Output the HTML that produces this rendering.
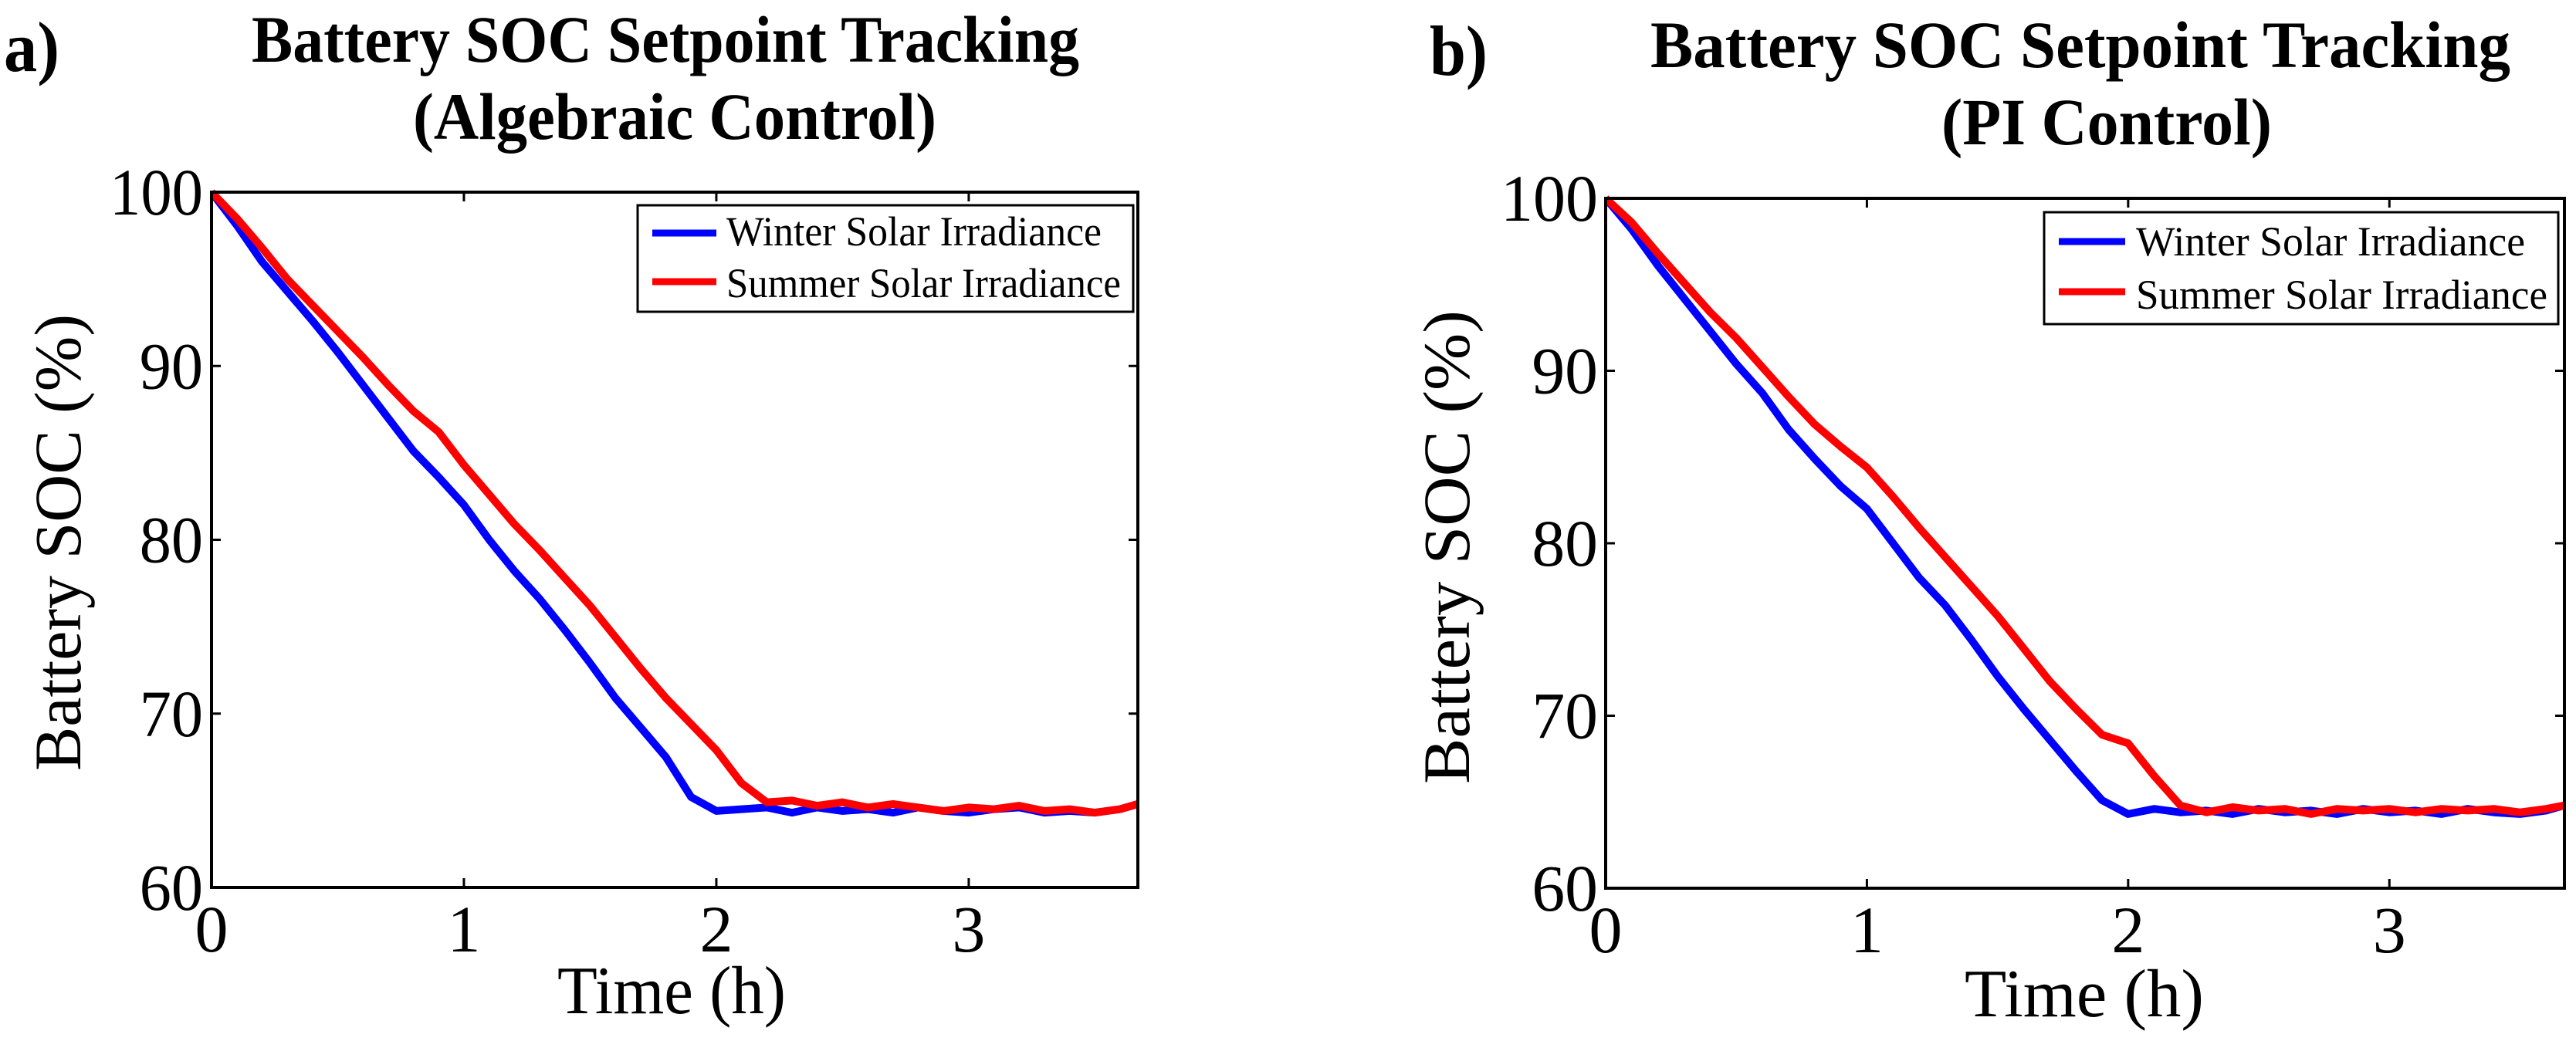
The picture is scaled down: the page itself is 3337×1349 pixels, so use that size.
<!DOCTYPE html>
<html><head><meta charset="utf-8"><style>
html,body{margin:0;padding:0;background:#fff;}
svg{display:block;}
text{font-family:"Liberation Serif",serif;fill:#000;}
</style></head><body>
<svg id="fig" width="3337" height="1349" viewBox="0 0 3337 1349" xmlns="http://www.w3.org/2000/svg"></svg>
<script>
const timeH = [0,0.1,0.2,0.3,0.4,0.5,0.6,0.7,0.8,0.9,1.0,1.1,1.2,1.3,1.4,1.5,1.6,1.7,1.8,1.9,2.0,2.1,2.2,2.3,2.4,2.5,2.6,2.7,2.8,2.9,3.0,3.1,3.2,3.3,3.4,3.5,3.6,3.67];
const algWinter = [100,98.1,96.0,94.3,92.6,90.8,88.9,87.0,85.1,83.6,82.0,80.0,78.2,76.6,74.8,72.9,70.9,69.2,67.5,65.2,64.4,64.5,64.6,64.3,64.6,64.4,64.5,64.3,64.6,64.4,64.3,64.5,64.6,64.3,64.4,64.3,64.5,64.8];
const algSummer = [100,98.5,96.8,95.0,93.5,92.0,90.5,88.9,87.4,86.2,84.3,82.6,80.9,79.4,77.8,76.2,74.4,72.6,70.9,69.4,67.9,66.0,64.9,65.0,64.7,64.9,64.6,64.8,64.6,64.4,64.6,64.5,64.7,64.4,64.5,64.3,64.5,64.8];
const piWinter = [100,98.2,96.1,94.2,92.3,90.4,88.7,86.6,84.9,83.3,82.0,80.0,78.0,76.4,74.4,72.3,70.4,68.6,66.8,65.1,64.3,64.6,64.4,64.5,64.3,64.6,64.4,64.5,64.3,64.6,64.4,64.5,64.3,64.6,64.4,64.3,64.5,64.8];
const piSummer = [100,98.6,96.8,95.1,93.4,91.9,90.2,88.5,86.9,85.6,84.4,82.7,80.9,79.2,77.5,75.8,73.9,72.0,70.4,68.9,68.4,66.5,64.8,64.4,64.7,64.5,64.6,64.3,64.6,64.5,64.6,64.4,64.6,64.5,64.6,64.4,64.6,64.8];
const xTicks = [0,1,2,3];
const yTicks = [60,70,80,90,100];
const xMax = 3.67;

const NS = "http://www.w3.org/2000/svg";
const svg = document.getElementById('fig');
function mk(tag, attrs, parent){
  const e = document.createElementNS(NS, tag);
  for (const k in attrs) e.setAttribute(k, attrs[k]);
  (parent||svg).appendChild(e);
  return e;
}
function txt(s, attrs, name, parent){
  const e = mk('text', attrs, parent);
  e.textContent = s;
  
  
  return e;
}

const panels = [
  {id:'a', L:274, T:249, R:1474, B:1150, winter:algWinter, summer:algSummer,
   t1:{x:326,w:1072,y:80}, t2s:'(Algebraic Control)', t2:{x:535,w:678,y:180}, lab:{x:5,w:72,y:92,s:'a)'},
   yl:{x:104,y1:999,y2:407}, xl:{x:722,w:296,y:1313},
   leg:{x:826,y:266,w:642,h:138,lx1:845,lx2:928,ly1:302,ly2:365,tx:941,tw1:486,tw2:511,ty1:318,ty2:385},
   ytl:{right:263, w100:121}},
  {id:'b', L:2080, T:257, R:3322, B:1151, winter:piWinter, summer:piSummer,
   t1:{x:2138,w:1114,y:87}, t2s:'(PI Control)', t2:{x:2515,w:428,y:187}, lab:{x:1852,w:75,y:97,s:'b)'},
   yl:{x:1903,y1:1016,y2:402}, xl:{x:2545,w:310,y:1317},
   leg:{x:2648,y:275,w:666,h:145,lx1:2667,lx2:2753,ly1:313,ly2:378,tx:2767,tw1:504,tw2:533,ty1:331,ty2:400},
   ytl:{right:2070, w100:126}}
];

panels.forEach(p=>{
  const g = mk('g', {});
  
  
  const xs = t => p.L + (t / xMax) * (p.R - p.L);
  const ys = v => p.B - (v - 60) / 40 * (p.B - p.T);

  txt(p.lab.s, {x:p.lab.x, y:p.lab.y, 'font-size':92, 'font-weight':'bold', textLength:p.lab.w, lengthAdjust:'spacingAndGlyphs'}, 'panel-label', g);
  txt('Battery SOC Setpoint Tracking', {x:p.t1.x, y:p.t1.y, 'font-size':86, 'font-weight':'bold', textLength:p.t1.w, lengthAdjust:'spacingAndGlyphs'}, 'chart-title-line1', g);
  txt(p.t2s, {x:p.t2.x, y:p.t2.y, 'font-size':86, 'font-weight':'bold', textLength:p.t2.w, lengthAdjust:'spacingAndGlyphs'}, 'chart-title-line2', g);

  const clip = mk('clipPath', {id:'clip'+p.id}, g);
  mk('rect', {x:p.L, y:p.T-6, width:p.R-p.L+4, height:p.B-p.T+6}, clip);
  const series = [[p.winter,'#0000ff','winter-solar-line'],[p.summer,'#ff0000','summer-solar-line']];
  series.forEach(s=>{
    const pts = timeH.map((t,i)=> xs(t).toFixed(1)+','+ys(s[0][i]).toFixed(1)).join(' ');
    const pl = mk('polyline', {points:pts, fill:'none', stroke:s[1], 'stroke-width':10, 'stroke-linejoin':'round', 'clip-path':'url(#clip'+p.id+')'}, g);
    
    
  });

  const box = mk('rect', {x:p.L, y:p.T, width:p.R-p.L, height:p.B-p.T, fill:'none', stroke:'#000', 'stroke-width':4}, g);
  
  

  xTicks.forEach(t=>{
    const x = xs(t);
    mk('line', {x1:x, y1:p.B, x2:x, y2:p.B-12, stroke:'#000', 'stroke-width':3}, g);
    mk('line', {x1:x, y1:p.T, x2:x, y2:p.T+12, stroke:'#000', 'stroke-width':3}, g);
    txt(String(t), {x:x, y:p.B+83, 'font-size':86, 'text-anchor':'middle'}, 'x-tick-label', g);
  });
  yTicks.forEach(v=>{
    const y = ys(v);
    mk('line', {x1:p.L, y1:y, x2:p.L+12, y2:y, stroke:'#000', 'stroke-width':3}, g);
    mk('line', {x1:p.R, y1:y, x2:p.R-12, y2:y, stroke:'#000', 'stroke-width':3}, g);
    const s = String(v);
    const w = s.length===3 ? p.ytl.w100 : p.ytl.w100*0.68;
    txt(s, {x:p.ytl.right - w, y:y+29, 'font-size':86, textLength:w, lengthAdjust:'spacingAndGlyphs'}, 'y-tick-label', g);
  });

  txt('Time (h)', {x:p.xl.x, y:p.xl.y, 'font-size':88, textLength:p.xl.w, lengthAdjust:'spacingAndGlyphs'}, 'x-axis-title', g);
  const ylen = p.yl.y1 - p.yl.y2;
  txt('Battery SOC (%)', {x:0, y:0, 'font-size':86, textLength:ylen, lengthAdjust:'spacingAndGlyphs', transform:'translate('+p.yl.x+','+p.yl.y1+') rotate(-90)'}, 'y-axis-title', g);

  const lg = mk('g', {}, g);
  
  
  mk('rect', {x:p.leg.x, y:p.leg.y, width:p.leg.w, height:p.leg.h, fill:'#fff', stroke:'#000', 'stroke-width':3}, lg);
  mk('line', {x1:p.leg.lx1, y1:p.leg.ly1, x2:p.leg.lx2, y2:p.leg.ly1, stroke:'#0000ff', 'stroke-width':9}, lg);
  mk('line', {x1:p.leg.lx1, y1:p.leg.ly2, x2:p.leg.lx2, y2:p.leg.ly2, stroke:'#ff0000', 'stroke-width':9}, lg);
  txt('Winter Solar Irradiance', {x:p.leg.tx, y:p.leg.ty1, 'font-size':54, textLength:p.leg.tw1, lengthAdjust:'spacingAndGlyphs'}, 'legend-entry-winter', lg);
  txt('Summer Solar Irradiance', {x:p.leg.tx, y:p.leg.ty2, 'font-size':54, textLength:p.leg.tw2, lengthAdjust:'spacingAndGlyphs'}, 'legend-entry-summer', lg);
});
</script>
</body></html>
